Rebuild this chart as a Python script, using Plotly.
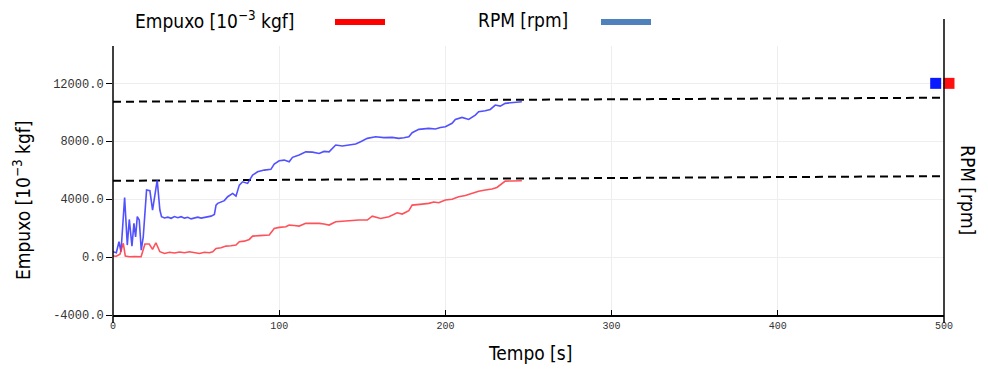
import plotly.graph_objects as go

# ---- data ----
rpm_t = [0, 2, 3.6, 4.8, 7, 8.6, 9.8, 11.4, 12.6, 13.6, 14.6, 15.8, 17, 18.2, 20.2, 22.2, 23.8, 26.6, 28.2, 29.2,
         31, 33, 35, 37, 39, 41, 43, 45, 47, 49, 51, 53, 55, 57, 59, 61, 62, 63, 65, 67, 69, 72, 74, 76, 78, 81,
         84, 87, 91, 95, 97, 100, 103, 106, 108, 112, 116, 120, 124, 127, 130, 132, 134, 138, 142, 146, 149, 153,
         158, 163, 168, 172, 175, 178, 180, 184, 190, 194, 197, 200, 204, 206, 210, 214, 218, 220, 224, 227, 230,
         233, 236, 241, 246]
rpm_v = [370, 300, 1060, 370, 4120, 830, 2600, 760, 2330, 1400, 2790, 2560, 480, 1400, 4630, 4580, 3250, 5320, 3250, 2790,
         2700, 2760, 2680, 2800, 2720, 2790, 2690, 2750, 2640, 2700, 2760, 2690, 2750, 2790, 2830, 2950, 3590, 3710, 3820, 3900,
         4170, 4400, 4210, 4970, 5200, 5090, 5660, 5890, 6010, 6060, 6420, 6650, 6700, 6580, 6890, 7050, 7270, 7250, 7160, 7300,
         7270, 7510, 7740, 7670, 7750, 7810, 7970, 8200, 8310, 8250, 8270, 8200, 8240, 8310, 8590, 8820, 8890, 8850, 8950, 9000,
         9240, 9510, 9650, 9510, 9810, 10040, 10110, 10200, 10500, 10430, 10620, 10660, 10730]

thrust_t = [0, 2, 4.2, 6.2, 7.4, 10, 13, 16.9, 19.2, 21.8, 23.8, 25.8, 28.2, 31, 34, 37, 40, 43, 46, 49, 52, 55, 58, 60,
            62, 65, 68, 71, 74, 76, 79, 82, 84, 88, 91, 94, 97, 100, 104, 106, 109, 112, 116, 120, 124, 127, 130, 134,
            138, 142, 148, 153, 156, 158, 161, 166, 171, 174, 178, 180, 183, 186, 190, 193, 196, 200, 204, 208, 212,
            216, 220, 224, 228, 231, 233, 236, 240, 246]
thrust_v = [70, 60, 200, 950, 70, 20, 30, 20, 900, 900, 530, 990, 370, 250, 330, 280, 350, 300, 370, 290, 250, 330, 300, 370,
            600, 650, 760, 780, 830, 1060, 1100, 1220, 1450, 1480, 1500, 1520, 1980, 2050, 2090, 2210, 2180, 2140, 2330, 2350,
            2330, 2280, 2210, 2440, 2450, 2510, 2560, 2560, 2830, 2760, 2670, 2790, 3060, 2970, 3200, 3590, 3600, 3660, 3710,
            3800, 3750, 3940, 4000, 4170, 4250, 4400, 4550, 4630, 4700, 4810, 4970, 5250, 5260, 5270]

ref_t = [0, 500]
ref_upper = [10730, 11010]
ref_lower = [5270, 5590]

marker_rpm_t = [495]
marker_thrust_t = [503]
marker_y = [12000]

y_ticks = [-4000, 0, 4000, 8000, 12000]
x_ticks = [0, 100, 200, 300, 400, 500]

legend_labels = ["Empuxo [10<sup>−3</sup> kgf]", "RPM [rpm]"]
x_title = "Tempo [s]"
y_title = "Empuxo [10<sup>−3</sup> kgf]"
y2_title = "RPM [rpm]"

TITLE_FONT = "Liberation Sans Narrow, DejaVu Sans Condensed, Roboto, sans-serif"
MONO = "Liberation Mono, Courier New, monospace"

# page has an 8px body margin: figure is 972x357 placed at (8, 8)
W, H = 972, 357
ML, MR, MT, MB = 105, 16, 38, 50
PLOT_W = W - ML - MR            # 851 px of paper
D = 831 / PLOT_W                # main x axis domain end (0..500 s over 831 px)
X_MAX = 500
Y_RANGE = [-4000, 14580]


def px(page_x):
    return (page_x - 113) / PLOT_W


def py(page_y):
    return (315 - page_y) / 269


fig = go.Figure()

for yy in (ref_upper, ref_lower):
    fig.add_trace(go.Scatter(x=ref_t, y=yy, mode="lines",
                             line=dict(color="black", width=2, dash="8px,5px"),
                             showlegend=False, hoverinfo="skip"))

fig.add_trace(go.Scatter(x=rpm_t, y=rpm_v, mode="lines",
                         line=dict(color="rgba(50,50,255,0.85)", width=1.6), showlegend=False))
fig.add_trace(go.Scatter(x=thrust_t, y=thrust_v, mode="lines",
                         line=dict(color="rgba(255,50,60,0.85)", width=1.6), showlegend=False))

fig.add_trace(go.Scatter(x=marker_rpm_t, y=marker_y, mode="markers", xaxis="x2", yaxis="y2",
                         marker=dict(symbol="square", size=11, color="#0a1aff"), showlegend=False))
fig.add_trace(go.Scatter(x=marker_thrust_t, y=marker_y, mode="markers", xaxis="x2", yaxis="y2",
                         marker=dict(symbol="square", size=11, color="#ff1010"), showlegend=False))

fig.update_layout(
    xaxis=dict(domain=[0, D], range=[0, X_MAX], tickvals=x_ticks, ticktext=[str(v) for v in x_ticks],
               showgrid=True, gridcolor="#eeeeee", gridwidth=1, zeroline=False,
               showline=True, linecolor="black", linewidth=1.5, anchor="y",
               ticks="inside", ticklen=5, tickcolor="black",
               tickfont=dict(family=MONO, size=10, color="#333")),
    xaxis2=dict(domain=[0, 1], range=[0, X_MAX / D], anchor="y2", visible=False,
                showgrid=False, zeroline=False),
    yaxis=dict(range=Y_RANGE, tickvals=y_ticks, ticktext=[f"{v:.1f}" for v in y_ticks],
               showgrid=True, gridcolor="#eeeeee", gridwidth=1, zeroline=False,
               showline=False, anchor="x",
               ticks="outside", ticklen=6, tickcolor="black",
               tickfont=dict(family=MONO, size=12, color="#333")),
    yaxis2=dict(domain=[0, 1], range=Y_RANGE, anchor="x2", visible=False,
                showgrid=False, zeroline=False),
)

shapes = [
    dict(type="line", xref="paper", yref="paper", x0=0, x1=0, y0=-0.03, y1=1.0,
         line=dict(color="black", width=1.5)),
    dict(type="line", xref="paper", yref="paper", x0=D, x1=D, y0=-0.03, y1=1.10,
         line=dict(color="black", width=1.5)),
    dict(type="line", xref="paper", yref="paper", x0=px(335), x1=px(385), y0=py(22), y1=py(22),
         line=dict(color="#ff0000", width=6)),
    dict(type="line", xref="paper", yref="paper", x0=px(601), x1=px(651), y0=py(22), y1=py(22),
         line=dict(color="#4f81bd", width=6)),
]

annotations = [
    dict(text=legend_labels[0], xref="paper", yref="paper", x=px(133), y=py(20), xanchor="left", yanchor="middle",
         showarrow=False, font=dict(family=TITLE_FONT, size=19, color="black")),
    dict(text=legend_labels[1], xref="paper", yref="paper", x=px(476), y=py(20), xanchor="left", yanchor="middle",
         showarrow=False, font=dict(family=TITLE_FONT, size=19, color="black")),
    dict(text=x_title, xref="paper", yref="paper", x=px(530), y=py(353), xanchor="center", yanchor="middle",
         showarrow=False, font=dict(family=TITLE_FONT, size=19, color="black")),
    dict(text=y_title, xref="paper", yref="paper", x=px(22), y=py(200), xanchor="center", yanchor="middle",
         textangle=-90, showarrow=False, font=dict(family=TITLE_FONT, size=19, color="black")),
    dict(text=y2_title, xref="paper", yref="paper", x=px(968), y=py(190), xanchor="center", yanchor="middle",
         textangle=90, showarrow=False, font=dict(family=TITLE_FONT, size=19, color="black")),
]

fig.update_layout(width=W, height=H, margin=dict(l=ML, r=MR, t=MT, b=MB, autoexpand=False),
                  paper_bgcolor="white", plot_bgcolor="rgba(0,0,0,0)",
                  shapes=shapes, annotations=annotations, showlegend=False)

fig.write_html("out.html")
